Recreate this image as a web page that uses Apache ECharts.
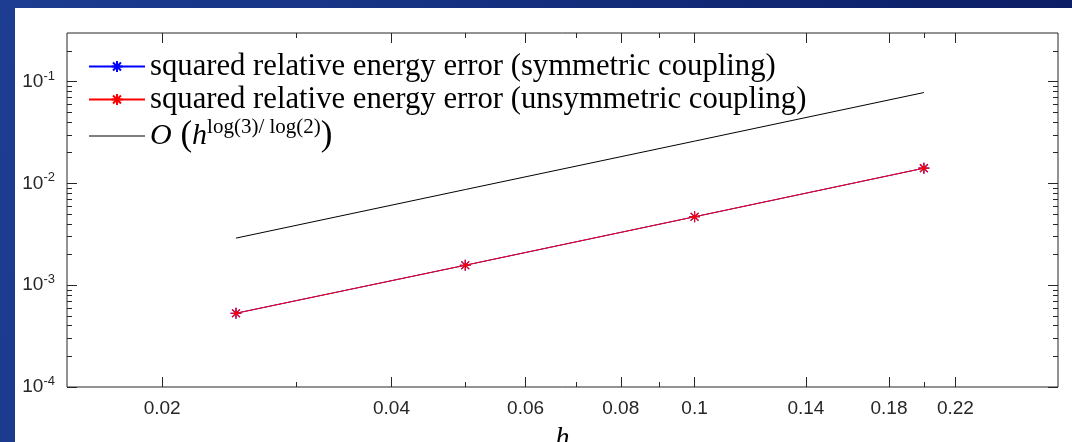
<!DOCTYPE html>
<html>
<head>
<meta charset="utf-8">
<script src="https://cdn.jsdelivr.net/npm/echarts@6/dist/echarts.min.js"></script>
<style>
  html, body { margin: 0; padding: 0; width: 1072px; height: 442px; overflow: hidden; }
  body { background: linear-gradient(100deg, #1d3d92 0%, #142f7e 45%, #0b1b62 100%); position: relative; }
  #chart { position: absolute; left: 15px; top: 8px; width: 1057px; height: 434px; background: #fff; }
</style>
</head>
<body>
<div id="chart"></div>
<script>
// mesh widths and measured errors
const hValues = [0.025, 0.05, 0.1, 0.2];
const errSymmetric = [0.00053, 0.00157, 0.0047, 0.0141];
const errUnsymmetric = [0.00053, 0.00157, 0.0047, 0.0141];
const rateReference = [0.0029, 0.0087, 0.026, 0.078];

const seriesNames = [
  'squared relative energy error (symmetric coupling)',
  'squared relative energy error (unsymmetric coupling)',
  'O(h^(log(3)/log(2)))'
];

// axis ranges and tick values
const xRange = [0.015, 0.3];
const yRange = [1e-4, 0.3];
const xMajorTicks = [0.02, 0.04, 0.06, 0.08, 0.1, 0.14, 0.18, 0.22];
const xMinorTicks = [0.03, 0.05, 0.07, 0.09, 0.2];
const yMajorTicks = [1e-4, 1e-3, 1e-2, 1e-1];
const yMinorTicks = [2e-4, 3e-4, 4e-4, 5e-4, 6e-4, 7e-4, 8e-4, 9e-4,
                     2e-3, 3e-3, 4e-3, 5e-3, 6e-3, 7e-3, 8e-3, 9e-3,
                     2e-2, 3e-2, 4e-2, 5e-2, 6e-2, 7e-2, 8e-2, 9e-2,
                     2e-1];

const lg = Math.log10;
const AX = '#262626';
const asterisk = 'path://M5 0L5 10M0 5L10 5M1.46 1.46L8.54 8.54M1.46 8.54L8.54 1.46';

function pairs(xs, ys) { return xs.map((x, i) => [x, ys[i]]); }

// decade-space axes used only for drawing ticks and labels on top of the log axes
function tickAxis(pos, range, ticks, len, labels) {
  const vals = ticks.map(lg);
  return {
    type: 'value', position: pos, min: lg(range[0]), max: lg(range[1]),
    axisLine: { show: false }, splitLine: { show: false },
    axisTick: { show: true, inside: true, length: len, customValues: vals,
                lineStyle: { color: AX, width: 1 } },
    axisLabel: labels ? Object.assign({ show: true, customValues: vals }, labels) : { show: false },
    silent: true
  };
}

const xLabelStyle = {
  margin: 12, color: AX, fontFamily: 'Liberation Sans', fontSize: 19,
  formatter: v => String(parseFloat(Math.pow(10, v).toPrecision(6)))
};
const yLabelStyle = {
  margin: 12, color: AX,
  formatter: v => '{b|10}{s|' + Math.round(v) + '}',
  rich: {
    b: { fontFamily: 'Liberation Sans', fontSize: 19, color: AX },
    s: { fontFamily: 'Liberation Sans', fontSize: 13, color: AX, padding: [0, 0, 11, 0] }
  }
};

const chart = echarts.init(document.getElementById('chart'), null, { renderer: 'canvas' });
chart.setOption({
  animation: false,
  backgroundColor: '#ffffff',
  grid: {
    left: 52, top: 25, right: 14, bottom: 55,
    show: true, backgroundColor: '#ffffff', borderColor: AX, borderWidth: 1,
    containLabel: false, outerBoundsMode: 'none'
  },
  legend: {
    orient: 'vertical', left: 73, top: 43, padding: 0, itemGap: 2,
    itemWidth: 56, itemHeight: 14,
    textStyle: {
      fontFamily: 'Liberation Serif', fontSize: 30.7, color: '#000',
      rich: {
        o: { fontFamily: 'Liberation Serif', fontStyle: 'italic', fontSize: 30, color: '#000' },
        p: { fontFamily: 'Liberation Serif', fontSize: 35, color: '#000' },
        h: { fontFamily: 'Liberation Serif', fontStyle: 'italic', fontSize: 30, color: '#000' },
        s: { fontFamily: 'Liberation Serif', fontSize: 21, color: '#000', padding: [0, 0, 17, 0] }
      }
    },
    formatter: name => name === seriesNames[2]
      ? '{o|O}{p| (}{h|h}{s|log(3)/ log(2)}{p|)}'
      : name,
    data: [
      { name: seriesNames[0] },
      { name: seriesNames[1] },
      { name: seriesNames[2], icon: 'path://M0 0L56 0L56 1L0 1Z', itemStyle: { color: '#000' } }
    ]
  },
  xAxis: [
    {
      type: 'log', logBase: 10, min: xRange[0], max: xRange[1],
      axisLine: { show: false }, axisTick: { show: false }, axisLabel: { show: false },
      splitLine: { show: false }, minorTick: { show: false },
      name: 'h', nameLocation: 'middle', nameGap: 38,
      nameTextStyle: { fontFamily: 'Liberation Serif', fontStyle: 'italic', fontSize: 28, color: '#000' }
    },
    tickAxis('bottom', xRange, xMajorTicks, 10, xLabelStyle),
    tickAxis('bottom', xRange, xMinorTicks, 5, null),
    tickAxis('top', xRange, xMajorTicks, 10, null),
    tickAxis('top', xRange, xMinorTicks, 5, null)
  ],
  yAxis: [
    {
      type: 'log', logBase: 10, min: yRange[0], max: yRange[1],
      axisLine: { show: false }, axisTick: { show: false }, axisLabel: { show: false },
      splitLine: { show: false }, minorTick: { show: false }
    },
    tickAxis('left', yRange, yMajorTicks, 10, yLabelStyle),
    tickAxis('left', yRange, yMinorTicks, 5, null),
    tickAxis('right', yRange, yMajorTicks, 10, null),
    tickAxis('right', yRange, yMinorTicks, 5, null)
  ],
  series: [
    {
      name: seriesNames[0], type: 'line', xAxisIndex: 0, yAxisIndex: 0,
      data: pairs(hValues, errSymmetric),
      symbol: asterisk, symbolSize: 11,
      lineStyle: { color: '#0000ff', width: 1 },
      itemStyle: { color: '#0000ff', borderColor: '#0000ff', borderWidth: 1.2 },
      z: 3
    },
    {
      name: seriesNames[1], type: 'line', xAxisIndex: 0, yAxisIndex: 0,
      data: pairs(hValues, errUnsymmetric),
      symbol: asterisk, symbolSize: 11,
      lineStyle: { color: '#ff0000', width: 1 },
      itemStyle: { color: '#ff0000', borderColor: '#ff0000', borderWidth: 1.2 },
      z: 4
    },
    {
      name: seriesNames[2], type: 'line', xAxisIndex: 0, yAxisIndex: 0,
      data: pairs(hValues, rateReference),
      symbol: 'none', showSymbol: false,
      lineStyle: { color: '#000000', width: 1 },
      itemStyle: { color: '#000000' },
      z: 3
    }
  ]
});
</script>
</body>
</html>
